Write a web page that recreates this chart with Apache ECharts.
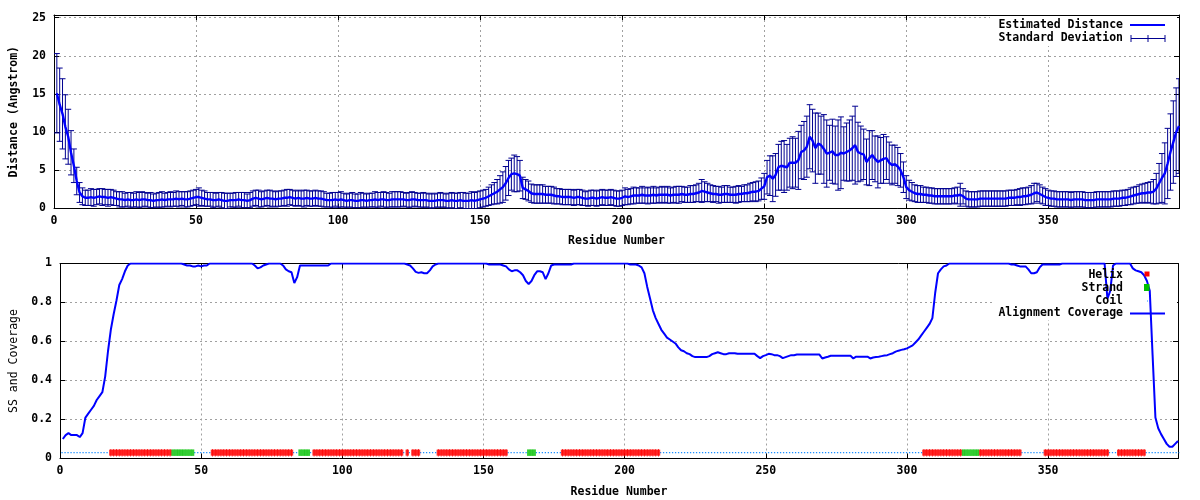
<!DOCTYPE html>
<html><head><meta charset="utf-8">
<script src="https://cdn.jsdelivr.net/npm/echarts@6/dist/echarts.min.js"></script>
<style>html,body{margin:0;padding:0;background:#fff}#c{width:1200px;height:500px}</style>
</head><body><div id="c"></div>
<script>
// ---------- DATA ----------
// Estimated distance (Angstrom) per residue 1..396
const meanDist = [
15.1,13.6,12.4,10.7,9.4,7.3,5.6,3.6,2.1,1.6,
1.4,1.4,1.5,1.4,1.5,1.6,1.5,1.5,1.4,1.5,
1.4,1.3,1.2,1.2,1.1,1.2,1.1,1.1,1.2,1.1,
1.2,1.2,1.1,1.1,1.0,1.1,1.1,1.2,1.1,1.2,
1.2,1.2,1.3,1.2,1.3,1.2,1.2,1.3,1.4,1.5,
1.5,1.4,1.3,1.2,1.2,1.1,1.1,1.2,1.1,1.0,
1.0,1.1,1.1,1.1,1.2,1.1,1.1,1.0,1.1,1.3,
1.4,1.3,1.2,1.3,1.4,1.3,1.3,1.2,1.3,1.3,
1.4,1.4,1.5,1.4,1.3,1.4,1.3,1.3,1.4,1.3,
1.3,1.4,1.3,1.3,1.2,1.1,1.1,1.1,1.2,1.1,
1.2,1.1,1.0,1.1,1.1,1.0,1.0,1.1,1.1,1.0,
1.1,1.1,1.2,1.1,1.2,1.2,1.1,1.1,1.2,1.2,
1.2,1.2,1.2,1.1,1.1,1.2,1.2,1.1,1.1,1.1,
1.1,1.0,1.0,1.0,1.1,1.1,1.1,1.0,1.0,1.1,
1.0,1.0,1.1,1.0,1.0,1.0,1.1,1.0,1.1,1.2,
1.3,1.4,1.6,1.8,2.0,2.2,2.5,2.8,3.3,4.0,
4.5,4.6,4.5,4.3,2.7,2.5,2.3,2.0,1.9,1.9,
1.9,1.9,1.8,1.8,1.8,1.7,1.6,1.6,1.5,1.5,
1.5,1.5,1.4,1.5,1.5,1.4,1.3,1.3,1.4,1.4,
1.3,1.4,1.5,1.4,1.4,1.5,1.4,1.3,1.3,1.4,
1.6,1.5,1.6,1.7,1.7,1.7,1.8,1.7,1.7,1.7,
1.8,1.7,1.8,1.8,1.8,1.8,1.7,1.8,1.8,1.8,
1.9,1.8,1.8,1.9,1.9,2.0,2.1,2.3,2.2,2.1,
2.0,1.9,1.9,1.8,1.8,1.9,1.9,1.8,1.8,1.8,
1.9,1.9,2.0,2.0,2.1,2.2,2.2,2.3,2.6,2.9,
4.1,4.3,3.9,4.4,5.4,5.6,5.5,5.4,6.0,6.0,
6.0,6.3,7.4,7.6,8.1,9.4,8.9,7.9,8.5,8.3,
7.8,7.2,7.3,7.5,7.0,7.0,7.3,7.2,7.4,7.6,
7.9,8.3,7.4,7.2,7.1,6.1,6.6,7.0,6.5,6.1,
6.3,6.5,6.6,6.0,5.7,5.8,5.5,5.0,4.1,2.8,
2.4,2.2,2.0,1.9,1.9,1.8,1.8,1.7,1.7,1.6,
1.6,1.6,1.6,1.6,1.6,1.6,1.7,1.7,1.8,1.6,
1.3,1.2,1.2,1.2,1.2,1.3,1.3,1.3,1.3,1.3,
1.3,1.3,1.3,1.3,1.3,1.4,1.4,1.4,1.5,1.5,
1.6,1.6,1.7,1.8,2.0,2.1,1.9,1.7,1.5,1.4,
1.3,1.3,1.2,1.2,1.2,1.2,1.2,1.1,1.2,1.2,
1.2,1.2,1.1,1.1,1.1,1.1,1.2,1.2,1.2,1.2,
1.2,1.2,1.3,1.3,1.3,1.4,1.4,1.5,1.6,1.7,
1.8,1.9,2.0,2.0,2.1,2.1,2.2,2.6,3.3,4.0,
4.6,5.9,7.4,8.7,10.0,10.8
];
// Standard deviation per residue
const stdDev = [
5.2,4.8,4.6,4.2,3.6,2.9,2.2,1.8,1.3,1.1,
1.0,1.0,1.1,1.1,1.0,1.0,1.1,1.0,1.1,1.0,
1.0,0.9,1.0,1.0,0.9,0.9,1.0,0.9,1.0,1.0,
1.0,0.9,0.9,1.0,0.9,0.9,1.0,1.0,0.9,0.9,
1.0,0.9,1.0,1.0,0.9,1.0,1.0,1.0,1.0,1.0,
1.2,1.0,1.0,0.9,0.9,1.0,0.9,0.9,1.0,1.0,
1.0,0.9,0.9,1.0,0.9,1.0,1.0,0.9,1.0,1.0,
1.0,1.1,1.0,1.0,1.0,1.1,1.0,1.0,1.0,1.0,
1.0,1.1,1.0,1.0,1.0,1.0,1.0,1.1,1.0,1.0,
1.0,1.0,1.0,1.0,1.0,0.9,0.9,1.0,0.9,1.0,
1.0,0.9,0.9,0.9,1.0,0.9,0.9,1.0,0.9,0.9,
0.9,0.9,1.0,1.0,0.9,1.0,1.0,0.9,1.0,1.0,
1.0,1.0,0.9,0.9,1.0,1.0,0.9,0.9,0.9,1.0,
0.9,0.9,1.0,0.9,0.9,1.0,0.9,0.9,1.0,1.0,
1.0,1.0,1.0,1.1,1.0,1.0,1.1,1.1,1.1,1.1,
1.1,1.1,1.2,1.3,1.4,1.6,1.8,2.0,2.2,2.3,
2.1,2.4,2.3,2.0,1.4,1.3,1.3,1.2,1.2,1.2,
1.2,1.2,1.1,1.1,1.1,1.1,1.0,1.0,1.0,1.0,
1.0,1.0,1.0,1.0,1.0,1.0,0.9,1.0,1.0,1.0,
1.0,1.0,1.0,1.0,1.0,1.0,1.0,1.0,1.0,1.0,
1.1,1.0,1.0,1.1,1.0,1.0,1.1,1.0,1.1,1.0,
1.1,1.0,1.0,1.1,1.0,1.1,1.0,1.0,1.1,1.1,
1.0,1.0,1.0,1.1,1.1,1.1,1.2,1.5,1.3,1.2,
1.1,1.1,1.0,1.1,1.0,1.1,1.1,1.0,1.0,1.1,
1.1,1.0,1.1,1.1,1.2,1.2,1.3,1.3,1.4,1.7,
2.2,2.6,3.0,2.8,3.0,3.2,3.4,3.0,3.2,3.4,
3.2,3.8,3.5,3.8,4.0,4.2,4.1,4.6,4.0,3.8,
4.5,4.4,3.6,4.2,3.8,4.6,4.7,3.5,3.8,4.0,
4.2,5.1,3.9,3.6,3.3,3.0,3.6,3.2,3.0,3.4,
3.0,3.2,2.8,2.7,2.6,2.5,2.5,2.2,2.0,1.5,
1.3,1.2,1.1,1.1,1.1,1.0,1.0,1.0,1.0,1.0,
1.0,1.0,1.0,1.0,1.0,1.0,1.0,1.1,1.5,1.0,
1.0,1.0,1.0,1.0,1.0,1.0,1.0,1.0,1.0,1.0,
1.0,1.0,1.0,1.0,1.0,1.0,1.0,1.0,1.0,1.1,
1.1,1.1,1.1,1.2,1.3,1.2,1.2,1.1,1.1,1.0,
1.0,1.0,1.0,1.0,1.0,1.0,1.0,1.0,1.0,1.0,
1.0,1.0,1.0,1.0,1.0,1.0,1.0,1.0,1.0,1.0,
1.0,1.0,1.0,1.0,1.0,1.0,1.0,1.0,1.1,1.1,
1.1,1.2,1.2,1.3,1.3,1.4,1.6,2.0,2.6,3.2,
4.0,4.6,5.0,5.4,5.8,6.2
];
// Alignment coverage per residue
const coverage = [
0.10,0.12,0.13,0.12,0.12,0.12,0.11,0.13,0.21,0.23,
0.25,0.27,0.30,0.32,0.34,0.42,0.55,0.66,0.74,0.81,
0.89,0.92,0.96,0.99,1,1,1,1,1,1,
1,1,1,1,1,1,1,1,1,1,
1,1,1,0.995,0.99,0.99,0.985,0.985,0.99,0.985,
0.99,0.99,1,1,1,1,1,1,1,1,
1,1,1,1,1,1,1,1,0.99,0.975,
0.98,0.99,0.995,1,1,1,1,1,0.99,0.97,
0.96,0.955,0.90,0.93,0.99,0.99,0.99,0.99,0.99,0.99,
0.99,0.99,0.99,0.99,0.99,1,1,1,1,1,
1,1,1,1,1,1,1,1,1,1,
1,1,1,1,1,1,1,1,1,1,
1,1,0.995,0.99,0.975,0.957,0.952,0.955,0.95,0.95,
0.965,0.985,0.995,1,1,1,1,1,1,1,
1,1,1,1,1,1,1,1,1,1,
1,0.995,0.995,0.995,0.995,0.995,0.99,0.985,0.97,0.96,
0.965,0.965,0.955,0.94,0.91,0.895,0.91,0.94,0.96,0.96,
0.955,0.92,0.95,0.99,0.995,0.995,0.995,0.995,0.995,0.995,
0.995,1,1,1,1,1,1,1,1,1,
1,1,1,1,1,1,1,1,1,1,
1,0.995,0.995,0.995,0.99,0.98,0.95,0.88,0.82,0.76,
0.72,0.69,0.66,0.64,0.62,0.61,0.60,0.59,0.57,0.555,
0.55,0.54,0.535,0.525,0.52,0.52,0.52,0.52,0.52,0.525,
0.535,0.54,0.545,0.54,0.535,0.535,0.54,0.54,0.54,0.537,
0.537,0.537,0.537,0.537,0.537,0.537,0.525,0.515,0.525,0.53,
0.537,0.535,0.53,0.53,0.525,0.515,0.52,0.525,0.53,0.53,
0.533,0.533,0.533,0.533,0.533,0.533,0.533,0.533,0.533,0.513,
0.518,0.522,0.527,0.527,0.527,0.527,0.527,0.527,0.527,0.527,
0.513,0.522,0.522,0.522,0.522,0.522,0.513,0.518,0.52,0.522,
0.525,0.528,0.53,0.535,0.54,0.548,0.553,0.557,0.56,0.565,
0.572,0.58,0.595,0.61,0.63,0.65,0.67,0.69,0.72,0.85,
0.95,0.97,0.985,0.99,1,1,1,1,1,1,
1,1,1,1,1,1,1,1,1,1,
1,1,1,1,1,1,0.995,0.995,0.99,0.985,
0.985,0.985,0.97,0.95,0.95,0.955,0.98,0.995,0.995,0.995,
0.995,0.995,0.995,0.995,1,1,1,1,1,1,
1,1,1,1,1,1,1,1,1,1,
0.82,0.86,0.99,1,1,1,1,1,1,0.975,
0.965,0.96,0.955,0.94,0.91,0.86,0.53,0.21,0.155,0.125,
0.10,0.075,0.06,0.06,0.075,0.09
];
// Secondary structure segments: [type, firstResidue, lastResidue]
const ssSegments = [
['C',1,17],['H',18,39],['E',40,47],['C',48,53],['H',54,82],['C',83,84],
['E',85,88],['C',89,89],['H',90,121],['C',122,122],['H',123,123],['C',124,124],
['H',125,127],['C',128,133],['H',134,158],['C',159,165],['E',166,168],
['C',169,177],['H',178,212],['C',213,305],['H',306,319],['E',320,325],
['H',326,340],['C',341,348],['H',349,371],['C',372,374],['H',375,384],['C',385,396]
];
const SS_LEVEL = 0.03;
const xTicks = [0,50,100,150,200,250,300,350];
const distTicks = [0,5,10,15,20,25];
const covTicks = [0,0.2,0.4,0.6,0.8,1];

// ---------- BUILD ----------
const nRes = meanDist.length;
const meanPts = [], errPts = [], covPts = [];
for (let i = 0; i < nRes; i++) {
  const r = i + 1;
  meanPts.push([r, meanDist[i]]);
  errPts.push([r, meanDist[i] - stdDev[i], meanDist[i] + stdDev[i]]);
  covPts.push([r, coverage[i]]);
}
const helixPts = [], strandPts = [], coilPts = [];
ssSegments.forEach(([t, a, b]) => {
  for (let r = a; r <= b; r++) {
    if (t === 'H') helixPts.push([r, SS_LEVEL]);
    else if (t === 'E') strandPts.push([r, SS_LEVEL]);
  }
});
ssSegments.forEach(([t, a, b]) => {
  if (t === 'C') { coilPts.push([a - 0.5, SS_LEVEL]); coilPts.push([b + 0.5, SS_LEVEL]); coilPts.push([b + 0.5, null]); }
});

const FONT = '"DejaVu Sans Mono", monospace';
const labStyle = { fontFamily: FONT, fontWeight: 'bold', fontSize: 11.5, color: '#000' };
const gridLine = { show: true, lineStyle: { color: '#a0a0a0', type: [2, 3], width: 1 } };
const black = { color: '#000', width: 1 };

function mainX(gi, name, gap) {
  return {
    gridIndex: gi, type: 'value', min: 0, max: 396, interval: 50,
    axisLine: { show: true, onZero: false, lineStyle: black },
    axisTick: { show: true, inside: true, length: 5, lineStyle: black },
    axisLabel: Object.assign({ margin: 7, formatter: v => xTicks.includes(v) ? String(v) : '' }, labStyle),
    splitLine: gridLine,
    name: name, nameLocation: 'middle', nameGap: gap,
    nameTextStyle: { fontFamily: FONT, fontWeight: 'bold', fontSize: 11.5, color: '#000' }
  };
}
function mirrorX(gi) {
  return {
    gridIndex: gi, type: 'value', min: 0, max: 396, interval: 50, position: 'top',
    axisLine: { show: true, onZero: false, lineStyle: black },
    axisTick: { show: true, inside: true, length: 5, lineStyle: black },
    axisLabel: { show: false }, splitLine: { show: false }
  };
}
function mainY(gi, max, interval, ticks, name, gap, weight) {
  return {
    gridIndex: gi, type: 'value', min: 0, max: max, interval: interval,
    axisLine: { show: true, onZero: false, lineStyle: black },
    axisTick: { show: true, inside: true, length: 5, lineStyle: black },
    axisLabel: Object.assign({ margin: 8, formatter: v => ticks.some(t => Math.abs(t - v) < 1e-9) ? String(+v.toFixed(1)) : '' }, labStyle),
    splitLine: gridLine,
    name: name, nameLocation: 'middle', nameGap: gap,
    nameTextStyle: { fontFamily: FONT, fontWeight: weight, fontSize: 11.5, color: '#000' }
  };
}
function mirrorY(gi, max, interval) {
  return {
    gridIndex: gi, type: 'value', min: 0, max: max, interval: interval, position: 'right',
    axisLine: { show: true, onZero: false, lineStyle: black },
    axisTick: { show: true, inside: true, length: 5, lineStyle: black },
    axisLabel: { show: false }, splitLine: { show: false }
  };
}

const ERR_COLOR = '#000090';
const legendFont = 'bold 11.5px "DejaVu Sans Mono", monospace';
function legText(txt, y) {
  return { type: 'text', z: 20, style: { text: txt, x: 1123, y: y, textAlign: 'right', textVerticalAlign: 'middle', font: legendFont, fill: '#000' } };
}

const option = {
  animation: false,
  backgroundColor: '#fff',
  grid: [
    { left: 52, top: 15, width: 1127, height: 193.5 },
    { left: 58, top: 263.5, width: 1120, height: 195 }
  ],
  xAxis: [mainX(0, 'Residue Number', 27), mirrorX(0), mainX(1, 'Residue Number', 28), mirrorX(1)],
  yAxis: [
    mainY(0, 25.35, 5, distTicks, 'Distance (Angstrom)', 34, 'bold'), mirrorY(0, 25.35, 5),
    mainY(1, 1, 0.2, covTicks, 'SS and Coverage', 40, 'normal'), mirrorY(1, 1, 0.2)
  ],
  series: [
    {
      type: 'custom', xAxisIndex: 0, yAxisIndex: 0, data: errPts, z: 3, clip: true,
      encode: { x: 0, y: [1, 2] },
      renderItem: (params, api) => {
        const r = api.value(0);
        const lo = api.coord([r, Math.max(0, api.value(1))]);
        const hi = api.coord([r, api.value(2)]);
        const w = 3;
        const st = { stroke: ERR_COLOR, lineWidth: 1 };
        return { type: 'group', children: [
          { type: 'line', shape: { x1: lo[0], y1: lo[1], x2: hi[0], y2: hi[1] }, style: st },
          { type: 'line', shape: { x1: lo[0] - w, y1: lo[1], x2: lo[0] + w, y2: lo[1] }, style: st },
          { type: 'line', shape: { x1: hi[0] - w, y1: hi[1], x2: hi[0] + w, y2: hi[1] }, style: st }
        ]};
      }
    },
    {
      type: 'line', xAxisIndex: 0, yAxisIndex: 0, data: meanPts, z: 4,
      showSymbol: false, lineStyle: { color: '#0000ff', width: 2.4 }
    },
    {
      type: 'line', xAxisIndex: 2, yAxisIndex: 2, data: coilPts, z: 3, connectNulls: false,
      showSymbol: false, lineStyle: { color: '#1e90ff', width: 1.3, type: [1.3, 1.7] }
    },
    {
      type: 'scatter', xAxisIndex: 2, yAxisIndex: 2, data: helixPts, z: 4,
      symbol: 'rect', symbolSize: [3.4, 6], itemStyle: { color: '#ff0000' }
    },
    {
      type: 'scatter', xAxisIndex: 2, yAxisIndex: 2, data: helixPts, z: 4,
      symbol: 'rect', symbolSize: [1, 7.5], itemStyle: { color: '#ff0000' }
    },
    {
      type: 'scatter', xAxisIndex: 2, yAxisIndex: 2, data: strandPts, z: 5,
      symbol: 'rect', symbolSize: [3.2, 6.5], itemStyle: { color: '#00c000' }
    },
    {
      type: 'line', xAxisIndex: 2, yAxisIndex: 2, data: covPts, z: 6,
      showSymbol: false, lineStyle: { color: '#0000ff', width: 2 }
    }
  ],
  graphic: {
    elements: [
      { type: 'rect', z: 1, shape: { x: 990, y: 16, width: 187, height: 30 }, style: { fill: '#fff' } },
      { type: 'rect', z: 1, shape: { x: 995, y: 265, width: 182, height: 55 }, style: { fill: '#fff' } },
      legText('Estimated Distance', 25.5),
      { type: 'line', z: 20, shape: { x1: 1130, y1: 25, x2: 1165, y2: 25 }, style: { stroke: '#0000ff', lineWidth: 2 } },
      legText('Standard Deviation', 38.5),
      { type: 'line', z: 20, shape: { x1: 1131, y1: 38.5, x2: 1165, y2: 38.5 }, style: { stroke: ERR_COLOR, lineWidth: 1 } },
      { type: 'line', z: 20, shape: { x1: 1131, y1: 35, x2: 1131, y2: 42 }, style: { stroke: ERR_COLOR, lineWidth: 1 } },
      { type: 'line', z: 20, shape: { x1: 1165, y1: 35, x2: 1165, y2: 42 }, style: { stroke: ERR_COLOR, lineWidth: 1 } },
      { type: 'line', z: 20, shape: { x1: 1148, y1: 35, x2: 1148, y2: 42 }, style: { stroke: ERR_COLOR, lineWidth: 1 } },
      legText('Helix', 275),
      { type: 'rect', z: 20, shape: { x: 1144.5, y: 271.5, width: 5, height: 5 }, style: { fill: '#ff0000' } },
      legText('Strand', 288),
      { type: 'rect', z: 20, shape: { x: 1144, y: 284, width: 5.5, height: 7 }, style: { fill: '#00c000' } },
      legText('Coil', 301),
      { type: 'rect', z: 20, shape: { x: 1147, y: 300.5, width: 1, height: 1 }, style: { fill: '#1e90ff' } },
      legText('Alignment Coverage', 313.5),
      { type: 'line', z: 20, shape: { x1: 1130, y1: 313.5, x2: 1165, y2: 313.5 }, style: { stroke: '#0000ff', lineWidth: 2 } }
    ]
  }
};
const chart = echarts.init(document.getElementById('c'), null, { renderer: 'canvas' });
chart.setOption(option);
</script></body></html>
